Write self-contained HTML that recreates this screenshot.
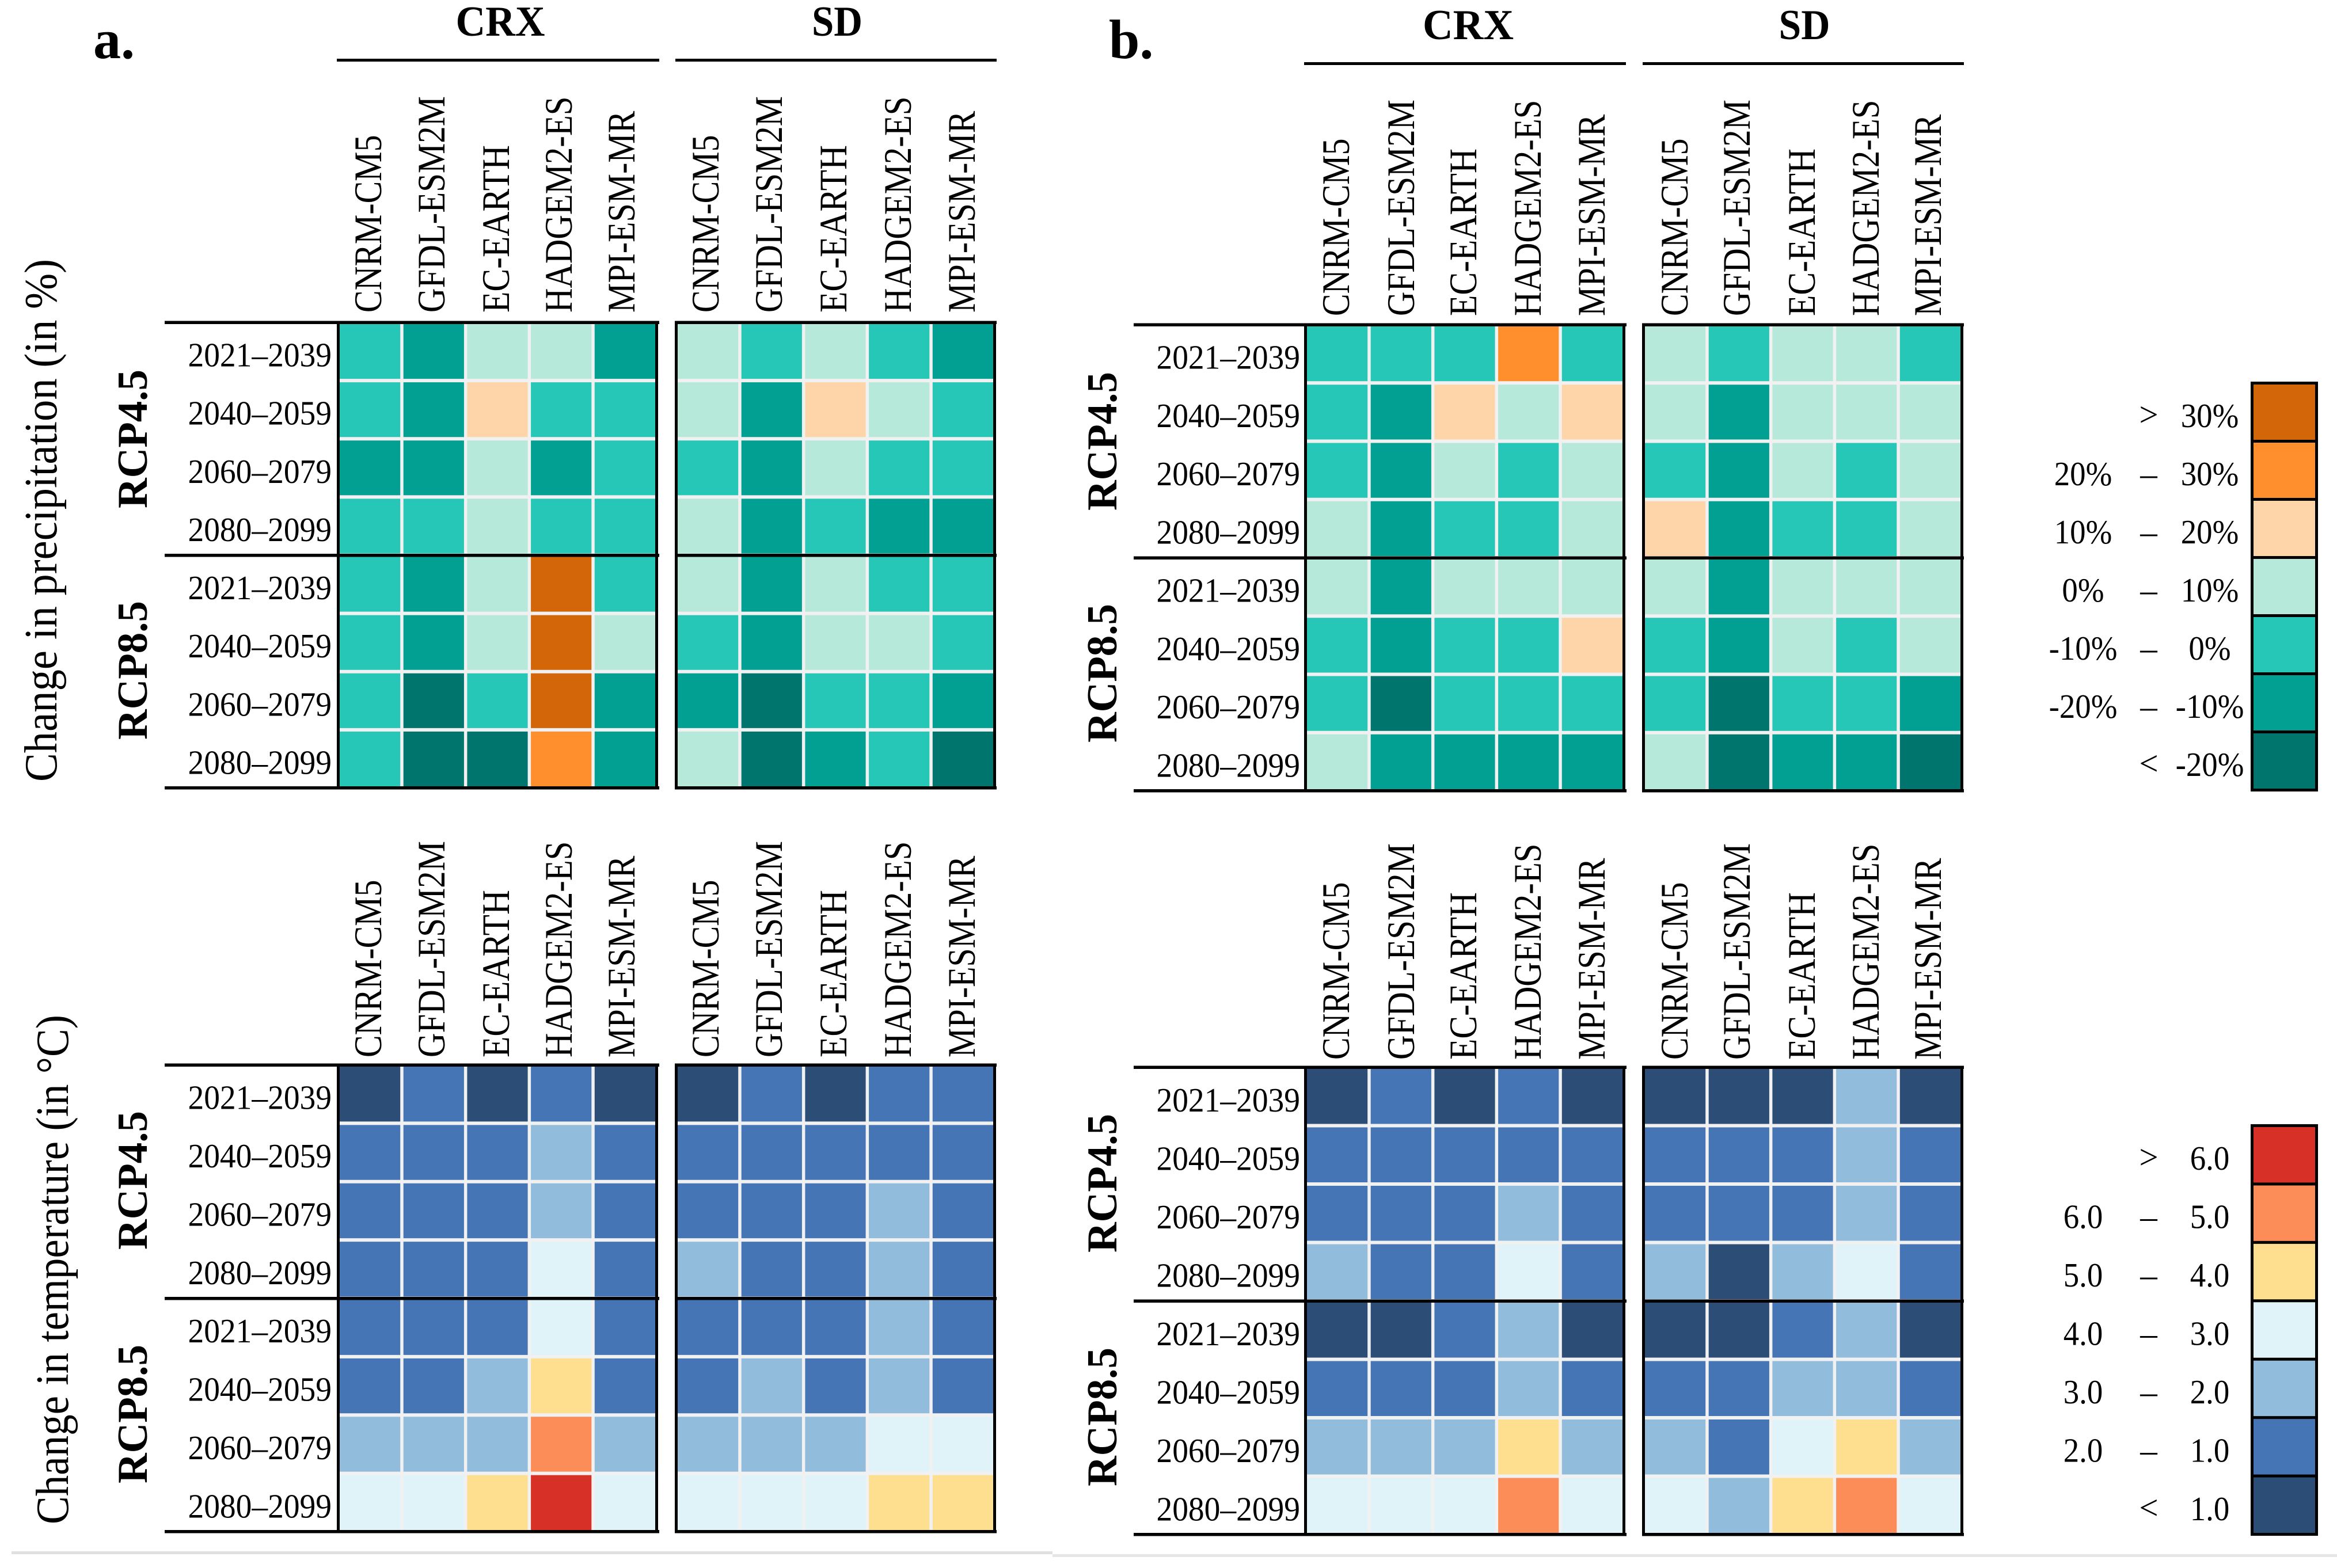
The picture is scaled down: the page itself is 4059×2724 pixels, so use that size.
<!DOCTYPE html>
<html lang="en">
<head>
<meta charset="utf-8">
<title>Change in precipitation and temperature heatmaps</title>
<style>
html,body{margin:0;padding:0;background:#fff;}
svg{display:block;}
text{font-family:"Liberation Serif",serif;fill:#000;}
.bold{font-weight:bold;}
</style>
</head>
<body>
<svg id="chart" xmlns="http://www.w3.org/2000/svg" width="4059" height="2724" viewBox="0 0 4059 2724">
<rect x="0" y="0" width="4059" height="2724" fill="#fff"/>
<rect x="20" y="2695" width="1808" height="5" fill="#e0e0e0"/>
<rect x="1828" y="2700" width="2231" height="5" fill="#e6e6e6"/>
<text class="bold" x="162" y="101" font-size="96">a.</text>
<text class="bold" x="1926" y="101" font-size="96">b.</text>
<text class="bold" x="869" y="62" font-size="74" text-anchor="middle" textLength="155" lengthAdjust="spacingAndGlyphs">CRX</text>
<text class="bold" x="1454" y="62" font-size="74" text-anchor="middle" textLength="88" lengthAdjust="spacingAndGlyphs">SD</text>
<text class="bold" x="2550" y="68" font-size="74" text-anchor="middle" textLength="158" lengthAdjust="spacingAndGlyphs">CRX</text>
<text class="bold" x="3134" y="68" font-size="74" text-anchor="middle" textLength="89" lengthAdjust="spacingAndGlyphs">SD</text>
<rect x="585" y="102" width="560" height="5" fill="#000"/>
<rect x="1173" y="102" width="558" height="5" fill="#000"/>
<rect x="2265" y="108" width="559" height="5" fill="#000"/>
<rect x="2853" y="108" width="558" height="5" fill="#000"/>
<text transform="translate(98,1358) rotate(-90)" font-size="80" textLength="908" lengthAdjust="spacingAndGlyphs">Change in precipitation (in %)</text>
<text transform="translate(118,2648) rotate(-90)" font-size="80" textLength="885" lengthAdjust="spacingAndGlyphs">Change in temperature (in °C)</text>
<g id="marks"></g>
</svg>
<script>
const models = ["CNRM-CM5", "GFDL-ESM2M", "EC-EARTH", "HADGEM2-ES", "MPI-ESM-MR"];
const periods = ["2021–2039", "2040–2059", "2060–2079", "2080–2099", "2021–2039", "2040–2059", "2060–2079", "2080–2099"];
const scenarios = ["RCP4.5", "RCP8.5"];

const precipBins = [-20, -10, 0, 10, 20, 30];
const precipColors = ["#00756e", "#02a092", "#26c7b7", "#b6e9da", "#fdd5a8", "#ff8e2d", "#d26608"];
const tempBins = [1, 2, 3, 4, 5, 6];
const tempColors = ["#2c4d75", "#4575b4", "#91bcdb", "#e0f3f8", "#fedf8f", "#fc8d59", "#d73027"];

const precipLegendValues = [35, 25, 15, 5, -5, -15, -25];
const precipLegendLow = [">", "20%", "10%", "0%", "-10%", "-20%", "<"];
const precipLegendHigh = ["30%", "30%", "20%", "10%", "0%", "-10%", "-20%"];
const tempLegendValues = [6.5, 5.5, 4.5, 3.5, 2.5, 1.5, 0.5];
const tempLegendLow = [">", "6.0", "5.0", "4.0", "3.0", "2.0", "<"];
const tempLegendHigh = ["6.0", "5.0", "4.0", "3.0", "2.0", "1.0", "1.0"];

const precipACrx = [
  [-5, -15, 5, 5, -15],
  [-5, -15, 15, -5, -5],
  [-15, -15, 5, -15, -5],
  [-5, -5, 5, -5, -5],
  [-5, -15, 5, 35, -5],
  [-5, -15, 5, 35, 5],
  [-5, -25, -5, 35, -15],
  [-5, -25, -25, 25, -15]
];
const precipASd = [
  [5, -5, 5, -5, -15],
  [5, -15, 15, 5, -5],
  [-5, -15, 5, -5, -5],
  [5, -15, -5, -15, -15],
  [5, -15, 5, -5, -5],
  [-5, -15, 5, 5, -5],
  [-15, -25, -5, -5, -15],
  [5, -25, -15, -5, -25]
];
const precipBCrx = [
  [-5, -5, -5, 25, -5],
  [-5, -15, 15, 5, 15],
  [-5, -15, 5, -5, 5],
  [5, -15, -5, -5, 5],
  [5, -15, 5, 5, 5],
  [-5, -15, -5, -5, 15],
  [-5, -25, -5, -5, -5],
  [5, -15, -15, -15, -15]
];
const precipBSd = [
  [5, -5, 5, 5, -5],
  [5, -15, 5, 5, 5],
  [-5, -15, 5, -5, 5],
  [15, -15, -5, -5, 5],
  [5, -15, 5, 5, 5],
  [-5, -15, 5, -5, 5],
  [-5, -25, -5, -5, -15],
  [5, -25, -15, -15, -25]
];
const tempACrx = [
  [0.5, 1.5, 0.5, 1.5, 0.5],
  [1.5, 1.5, 1.5, 2.5, 1.5],
  [1.5, 1.5, 1.5, 2.5, 1.5],
  [1.5, 1.5, 1.5, 3.5, 1.5],
  [1.5, 1.5, 1.5, 3.5, 1.5],
  [1.5, 1.5, 2.5, 4.5, 1.5],
  [2.5, 2.5, 2.5, 5.5, 2.5],
  [3.5, 3.5, 4.5, 6.5, 3.5]
];
const tempASd = [
  [0.5, 1.5, 0.5, 1.5, 1.5],
  [1.5, 1.5, 1.5, 1.5, 1.5],
  [1.5, 1.5, 1.5, 2.5, 1.5],
  [2.5, 1.5, 1.5, 2.5, 1.5],
  [1.5, 1.5, 1.5, 2.5, 1.5],
  [1.5, 2.5, 1.5, 2.5, 1.5],
  [2.5, 2.5, 2.5, 3.5, 3.5],
  [3.5, 3.5, 3.5, 4.5, 4.5]
];
const tempBCrx = [
  [0.5, 1.5, 0.5, 1.5, 0.5],
  [1.5, 1.5, 1.5, 1.5, 1.5],
  [1.5, 1.5, 1.5, 2.5, 1.5],
  [2.5, 1.5, 1.5, 3.5, 1.5],
  [0.5, 0.5, 1.5, 2.5, 0.5],
  [1.5, 1.5, 1.5, 2.5, 1.5],
  [2.5, 2.5, 2.5, 4.5, 2.5],
  [3.5, 3.5, 3.5, 5.5, 3.5]
];
const tempBSd = [
  [0.5, 0.5, 0.5, 2.5, 0.5],
  [1.5, 1.5, 1.5, 2.5, 1.5],
  [1.5, 1.5, 1.5, 2.5, 1.5],
  [2.5, 0.5, 2.5, 3.5, 1.5],
  [0.5, 0.5, 1.5, 2.5, 0.5],
  [1.5, 1.5, 2.5, 2.5, 1.5],
  [2.5, 1.5, 3.5, 4.5, 2.5],
  [3.5, 2.5, 4.5, 5.5, 3.5]
];

const NS = "http://www.w3.org/2000/svg";
const root = document.getElementById("marks");
const modelLabelEm = 58.2;
const modelLabelWidths = { "CNRM-CM5": 5.3, "GFDL-ESM2M": 6.46, "EC-EARTH": 5.0, "HADGEM2-ES": 6.45, "MPI-ESM-MR": 6.02 };

function colorFor(value, bins, colors) {
  let k = 0;
  while (k < bins.length && value >= bins[k]) k++;
  return colors[k];
}
function makeBand(start, end, count, gap) {
  const step = (end - start + gap) / count;
  return { pos: function (i) { return start + i * step; }, size: step - gap, step: step };
}
function addRect(parent, x, y, w, h, fill) {
  const r = document.createElementNS(NS, "rect");
  r.setAttribute("x", x);
  r.setAttribute("y", y);
  r.setAttribute("width", w);
  r.setAttribute("height", h);
  r.setAttribute("fill", fill);
  parent.appendChild(r);
  return r;
}
function addText(parent, str, x, y, size, anchor, rotate, sx, bold) {
  const t = document.createElementNS(NS, "text");
  t.textContent = str;
  t.setAttribute("font-size", size);
  t.setAttribute("text-anchor", anchor);
  t.setAttribute("transform", "translate(" + x + "," + y + ")" + (rotate ? " rotate(-90)" : "") + " scale(" + sx + ",1)");
  if (bold) t.setAttribute("class", "bold");
  parent.appendChild(t);
  return t;
}

function drawPanel(name, values, bins, colors, xL, xR, yT, yB, labelBaseY, labelX) {
  const g = document.createElementNS(NS, "g");
  
  
  root.appendChild(g);
  const bg = addRect(g, xL, yT, xR - xL, yB - yT, "#f1f1f1");
  
  
  const xs = makeBand(xL, xR, models.length, 5.5);
  const ys = makeBand(yT, yB, periods.length, 6);
  values.forEach(function (row, r) {
    row.forEach(function (v, c) {
      const cell = addRect(g, xs.pos(c), ys.pos(r), xs.size, ys.size, colorFor(v, bins, colors));
      
      
    });
  });
  models.forEach(function (m, c) {
    const t = addText(g, m, labelX[c], labelBaseY, 68, "start", true, 1, false);
    t.setAttribute("textLength", (modelLabelWidths[m] * modelLabelEm).toFixed(1));
    t.setAttribute("lengthAdjust", "spacingAndGlyphs");
    
    
  });
  const lineL = addRect(g, xL - 5, yT - 3, 5, yB - yT + 7, "#000");
  
  
  const lineR = addRect(g, xR, yT - 3, 5, yB - yT + 7, "#000");
  
  
  return ys;
}

function drawRowFrame(prefix, ys, yT, yB, segments, yearRightX, rcpX, rcpY) {
  const g = document.createElementNS(NS, "g");
  
  
  root.appendChild(g);
  segments.forEach(function (seg) {
    const top = addRect(g, seg[0], yT - 5.5, seg[1] - seg[0], 5.5, "#000");
    
    
    const mid = addRect(g, seg[0], ys.pos(4) - 5.5, seg[1] - seg[0], 5.5, "#000");
    
    
    const bottom = addRect(g, seg[0], yB, seg[1] - seg[0], 5.5, "#000");
    
    
  });
  periods.forEach(function (p, r) {
    const t = addText(g, p, yearRightX, ys.pos(r) + ys.size / 2 + 26, 59, "end", false, 0.94, false);
    
    
  });
  scenarios.forEach(function (s, i) {
    const t = addText(g, s, rcpX, rcpY[i], 74, "start", true, 0.985, true);
    
    
  });
}

function drawLegend(name, legendValues, low, high, bins, colors, x0, x1, y0, y1, lowX, highX) {
  const g = document.createElementNS(NS, "g");
  
  
  root.appendChild(g);
  const frame = addRect(g, x0, y0, x1 - x0, y1 - y0, "#000");
  
  
  const ys = makeBand(y0 + 5, y1 - 5, legendValues.length, 5);
  legendValues.forEach(function (v, i) {
    const cell = addRect(g, x0 + 5, ys.pos(i), x1 - x0 - 10, ys.size, colorFor(v, bins, colors));
    
    
    const base = ys.pos(i) + ys.size / 2 + 26;
    const symbol = (low[i] === ">" || low[i] === "<");
    if (!symbol) {
      const a = addText(g, low[i], lowX, base, 59, "middle", false, 0.93, false);
      
      
    }
    const mark = addText(g, symbol ? low[i] : "–", 3732, base - (symbol ? 2 : 0), 59, "middle", false, 1, false);
    
    
    const b = addText(g, high[i], highX, base, 59, "middle", false, 0.93, false);
    
    
  });
}

const labelXACrx = [662, 772, 884, 993, 1102];
const labelXASd = [1248, 1358, 1470, 1582, 1693];
const labelXBCrx = [2343, 2456, 2564, 2676, 2787];
const labelXBSd = [2931, 3039, 3152, 3263, 3371];

let ys;
ys = drawPanel("panel-a-precip-crx", precipACrx, precipBins, precipColors, 590, 1138, 563, 1366, 543, labelXACrx);
drawPanel("panel-a-precip-sd", precipASd, precipBins, precipColors, 1177, 1725, 563, 1366, 543, labelXASd);
drawRowFrame("panel-a-precip", ys, 563, 1366, [[286, 1145], [1172, 1731]], 576, 255, [883, 1285]);

ys = drawPanel("panel-a-temp-crx", tempACrx, tempBins, tempColors, 590, 1138, 1853, 2658, 1837, labelXACrx);
drawPanel("panel-a-temp-sd", tempASd, tempBins, tempColors, 1177, 1725, 1853, 2658, 1837, labelXASd);
drawRowFrame("panel-a-temp", ys, 1853, 2658, [[286, 1145], [1172, 1731]], 576, 255, [2171, 2577]);

ys = drawPanel("panel-b-precip-crx", precipBCrx, precipBins, precipColors, 2270, 2818, 567, 1371, 549, labelXBCrx);
drawPanel("panel-b-precip-sd", precipBSd, precipBins, precipColors, 2857, 3405, 567, 1371, 549, labelXBSd);
drawRowFrame("panel-b-precip", ys, 567, 1371, [[1969, 2825], [2852, 3411]], 2258, 1939, [887, 1290]);

ys = drawPanel("panel-b-temp-crx", tempBCrx, tempBins, tempColors, 2270, 2818, 1857, 2663, 1841, labelXBCrx);
drawPanel("panel-b-temp-sd", tempBSd, tempBins, tempColors, 2857, 3405, 1857, 2663, 1841, labelXBSd);
drawRowFrame("panel-b-temp", ys, 1857, 2663, [[1969, 2825], [2852, 3411]], 2258, 1939, [2176, 2582]);

drawLegend("legend-precipitation", precipLegendValues, precipLegendLow, precipLegendHigh, precipBins, precipColors, 3909, 4026, 663, 1375, 3618, 3838);
drawLegend("legend-temperature", tempLegendValues, tempLegendLow, tempLegendHigh, tempBins, tempColors, 3909, 4026, 1953, 2668, 3618, 3838);
</script>
</body>
</html>
